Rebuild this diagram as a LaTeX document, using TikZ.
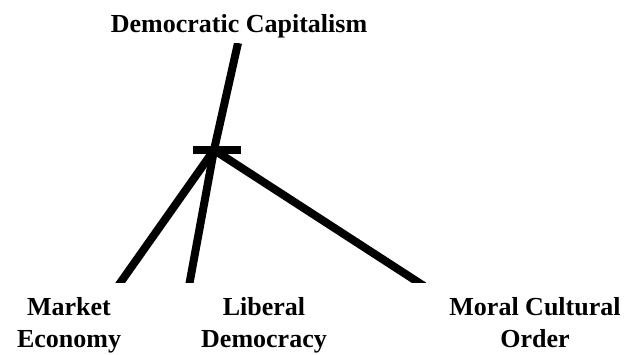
\documentclass[tikz,border=0pt]{standalone}
\usepackage{fontspec}
\setmainfont{Liberation Serif}
\usepackage{tikz}
\usetikzlibrary{positioning, calc}

\begin{document}
\begin{tikzpicture}[x=1pt, y=-1pt,
  lbl/.style={font=\fontsize{26}{32}\selectfont\bfseries, align=center, inner sep=0pt, anchor=base},
  stem/.style={line width=8pt, black}
]
\useasboundingbox (0,0) rectangle (627,354);

\node[lbl] (dc) at (239,32) {Democratic Capitalism};
\node[lbl] (me) at (69,347) {Market\\Economy};
\node[lbl] (ld) at (264,347) {Liberal\\Democracy};
\node[lbl] (mc) at (535,347) {Moral Cultural\\Order};

\coordinate (top) at (238,43);
\coordinate (hub) at (214,150);
\coordinate (barl) at (193,150);
\coordinate (barr) at (241,150);
\coordinate (meend) at (118,286);
\coordinate (ldend) at (189,286);
\coordinate (mcend) at (424,286);

\begin{scope}
\clip (0,43) rectangle (627,282);
\draw[stem] (top) -- ($(hub)!-0.05!(top)$);
\draw[stem] (hub) -- (meend);
\draw[stem] (hub) -- (ldend);
\draw[stem] (hub) -- (mcend);
\end{scope}
\draw[stem] (barl) -- (barr);
\end{tikzpicture}
\end{document}
